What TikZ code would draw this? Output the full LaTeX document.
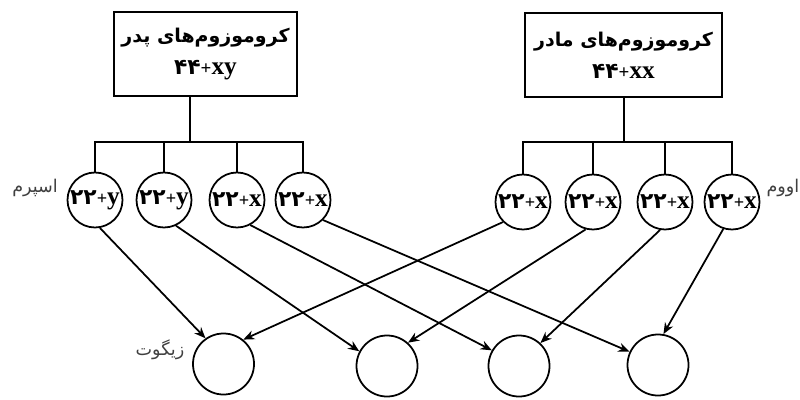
\documentclass[tikz,border=0pt]{standalone}
\usepackage{fontspec}
\setmainfont{Liberation Serif}
\newfontfamily\arabicfont[Script=Arabic]{DejaVu Sans}
\TeXXeTstate=1
\usetikzlibrary{arrows.meta}
\newcommand{\bigxy}[1]{{\fontsize{18}{18}\selectfont\bfseries #1}}
\newcommand{\pdig}[1]{{\arabicfont\bfseries\fontsize{15.5}{18}\selectfont #1}}
\begin{document}
\begin{tikzpicture}[x=0.025cm,y=-0.025cm,line width=1.25pt,
  parentbox/.style={draw,rectangle,minimum height=2.1cm,inner sep=0pt,align=center,
    font=\fontsize{13.5}{23}\selectfont\bfseries},
  gamete/.style={draw,circle,minimum size=1.375cm,inner sep=0pt,
    font=\fontsize{13}{16}\selectfont\bfseries},
  zygote/.style={draw,circle,minimum size=1.525cm,inner sep=0pt},
  lbl/.style={font=\arabicfont\fontsize{12.5}{14}\selectfont,text=black!75},
  arr/.style={-{Stealth[length=8pt,width=6.5pt]}}]
\useasboundingbox (0,0) rectangle (800,400);
% parent boxes
\node[parentbox,minimum width=4.575cm] (pbox) at (205.5,54)
  {{\arabicfont\bfseries\beginR کروموزوم‌های پدر\endR}\\\pdig{۴۴}+\bigxy{xy}};
\node[parentbox,minimum width=4.925cm] (mbox) at (623.5,55)
  {{\arabicfont\bfseries\beginR کروموزوم‌های مادر\endR}\\\pdig{۴۴}+\bigxy{xx}};
% gametes
\node[gamete] (s1) at (95,200) {\pdig{۲۲}+\bigxy{y}};
\node[gamete] (s2) at (164,200) {\pdig{۲۲}+\bigxy{y}};
\node[gamete] (s3) at (237,200) {\pdig{۲۲}+\bigxy{x}};
\node[gamete] (s4) at (303,200) {\pdig{۲۲}+\bigxy{x}};
\node[gamete] (o1) at (523,202) {\pdig{۲۲}+\bigxy{x}};
\node[gamete] (o2) at (593,202) {\pdig{۲۲}+\bigxy{x}};
\node[gamete] (o3) at (665,202) {\pdig{۲۲}+\bigxy{x}};
\node[gamete] (o4) at (732,202) {\pdig{۲۲}+\bigxy{x}};
% zygotes
\node[zygote] (z1) at (223.5,364) {};
\node[zygote] (z2) at (387,366) {};
\node[zygote] (z3) at (519,366) {};
\node[zygote] (z4) at (658,365) {};
% labels
\node[lbl] (lsperm) at (35,188) {\beginR اسپرم\endR};
\node[lbl,anchor=west] (lovum) at (761,188) {\beginR اووم\endR};
\node[lbl] (lzyg) at (160,350) {\beginR زیگوت\endR};
% tree connectors
\coordinate (pj) at (190,142);
\coordinate (mj) at (624,142);
\draw (pj |- pbox.south) -- (pj);
\draw (mj |- mbox.south) -- (mj);
\draw (s1.north) -- (s1.north |- pj) -- (s4.north |- pj) -- (s4.north);
\draw (s2.north) -- (s2.north |- pj);
\draw (s3.north) -- (s3.north |- pj);
\draw (o1.north) -- (o1.north |- mj) -- (o4.north |- mj) -- (o4.north);
\draw (o2.north) -- (o2.north |- mj);
\draw (o3.north) -- (o3.north |- mj);
% fertilisation arrows
\draw[arr] (s1.-80) -- (z1.125);
\draw[arr] (s2.-65) -- (z2.152);
\draw[arr] (s3.-62) -- (z3.150);
\draw[arr] (s4.-45) -- (z4.155);
\draw[arr] (o1.-135) -- (z1.51);
\draw[arr] (o2.-105) -- (z2.48);
\draw[arr] (o3.-100) -- (z3.47);
\draw[arr] (o4.-108) -- (z4.80);
\end{tikzpicture}
\end{document}
